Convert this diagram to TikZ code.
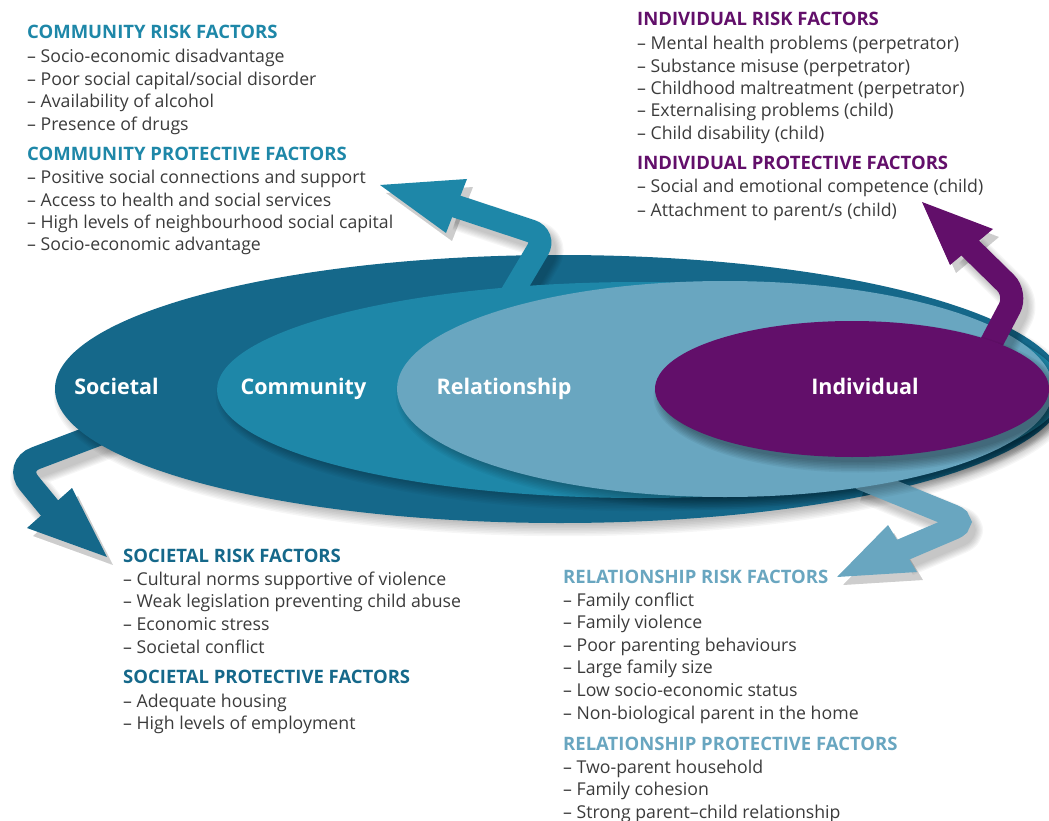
\documentclass[tikz,border=0pt]{standalone}
\usepackage{fontspec}
\setmainfont{Open Sans}
\definecolor{soc}{HTML}{15688A}
\definecolor{com}{HTML}{1E87A8}
\definecolor{rel}{HTML}{69A6C0}
\definecolor{ind}{HTML}{620F6A}
\definecolor{txt}{HTML}{3B3B3B}
\tikzset{
  body/.style={inner sep=0pt, anchor=base west, text=txt, font=\fontsize{17.7}{22}\selectfont},
  head/.style={inner sep=0pt, anchor=base west, font=\bfseries\fontsize{18.5}{22}\selectfont},
  lvl/.style={inner sep=0pt, anchor=base, text=white, font=\bfseries\fontsize{21.5}{26}\selectfont},
  shaft/.style={line width=23pt, rounded corners=16pt},
  shd/.style={black, opacity=0.035},
}
\newcommand{\ellshadow}[4]{%
  \foreach \k in {0,...,7}
    \fill[shd] (#1+5,#2+7) ellipse [x radius={#3pt-5pt+\k*1.6pt}, y radius={#4pt-5pt+\k*1.6pt}];%
}
\newcommand{\arrshadow}[1]{%
  \foreach \k in {0,...,6}
    \draw[shd, line width={21pt+\k*2.4pt}, rounded corners=16pt, line join=round] #1;%
}
\begin{document}
\begin{tikzpicture}[x=1pt,y=-1pt]
\useasboundingbox (0,0) rectangle (1049,821);
\clip (0,0) rectangle (1049,821);

% ---------- societal arrow (behind societal ellipse)
\begin{scope}[shift={(6,8)}]
  \arrshadow{(110,430) -- (15,466) -- (52,512)}
  \foreach \k in {0,...,5}
    \fill[shd] (107,557) -- (27,528) -- (72,488) -- cycle;
\end{scope}
\coordinate (sa0) at (110,430);
\coordinate (sa1) at (15,466);
\coordinate (sa2) at (52,511);
\draw[soc, shaft, rounded corners=22pt] (sa0) -- (sa1) -- (sa2);
\fill[soc] (107,557) coordinate (satip) -- (27,528) -- (72,488) -- cycle;

% ---------- societal ellipse
\ellshadow{560}{389}{505}{134}
\fill[soc] (560,389) ellipse [x radius=505pt, y radius=134pt];
\node[lvl] (societal) at (116.5,394) {Societal};

% ---------- community arrow
\begin{scope}[shift={(6,8)}]
  \arrshadow{(508,300) -- (546,236) -- (452,205)}
  \foreach \k in {0,...,5}
    \fill[shd] (380,185) -- (467,179) -- (446,233) -- cycle;
\end{scope}
\coordinate (ca0) at (508,300);
\coordinate (ca1) at (546,236);
\coordinate (ca2) at (452,205);
\draw[com, shaft] (ca0) -- (ca1) -- (ca2);
\fill[com] (380,185) coordinate (catip) -- (467,179) -- (446,233) -- cycle;

% ---------- community ellipse
\ellshadow{640}{390}{423}{108}
\fill[com] (640,390) ellipse [x radius=423pt, y radius=108pt];
\node[lvl] (community) at (303.5,394) {Community};

% ---------- relationship arrow
\begin{scope}[shift={(6,8)}]
  \arrshadow{(860,478) -- (968,522) -- (900,551)}
  \foreach \k in {0,...,5}
    \fill[shd] (837,577) -- (888,525) -- (917,572) -- cycle;
\end{scope}
\coordinate (ra0) at (860,478);
\coordinate (ra1) at (968,522);
\coordinate (ra2) at (900,551);
\draw[rel, shaft] (ra0) -- (ra1) -- (ra2);
\fill[rel] (837,577) coordinate (ratip) -- (888,525) -- (917,572) -- cycle;

% ---------- relationship ellipse
\ellshadow{725}{389}{328}{108}
\fill[rel] (725,389) ellipse [x radius=328pt, y radius=108pt];
\node[lvl] (relationship) at (504,394) {Relationship};

% ---------- individual arrow
\begin{scope}[shift={(6,8)}]
  \arrshadow{(985,355) -- (1017,294) -- (965,243)}
  \foreach \k in {0,...,5}
    \fill[shd] (922,202) -- (993,229) -- (950,265) -- cycle;
\end{scope}
\coordinate (ia0) at (985,355);
\coordinate (ia1) at (1017,294);
\coordinate (ia2) at (965,243);
\draw[ind, shaft] (ia0) -- (ia1) -- (ia2);
\fill[ind] (922,202) coordinate (iatip) -- (993,229) -- (950,265) -- cycle;

% ---------- individual ellipse
\foreach \k in {0,...,7}
  \fill[black, opacity=0.05] (858,397) ellipse [x radius={194pt+\k*1.5pt}, y radius={65pt+\k*1.5pt}];
\fill[ind] (852,389) ellipse [x radius=197pt, y radius=68pt];
\node[lvl] (individual) at (865,394) {Individual};

% ---------- community text
\node[head, text=com] (ch1) at (27,39) {COMMUNITY RISK FACTORS};
\foreach \t [count=\i from 0] in {Socio-economic disadvantage, Poor social capital/social disorder, Availability of alcohol, Presence of drugs}
  \node[body] (cr\i) at (27,62.7+22.5*\i) {– \t};
\node[head, text=com] (ch2) at (27,161) {COMMUNITY PROTECTIVE FACTORS};
\foreach \t [count=\i from 0] in {Positive social connections and support, Access to health and social services, High levels of neighbourhood social capital, Socio-economic advantage}
  \node[body] (cp\i) at (27,184+22.3*\i) {– \t};

% ---------- individual text
\node[head, text=ind] (ih1) at (637,26) {INDIVIDUAL RISK FACTORS};
\foreach \t [count=\i from 0] in {Mental health problems (perpetrator), Substance misuse (perpetrator), Childhood maltreatment (perpetrator), Externalising problems (child), Child disability (child)}
  \node[body] (ir\i) at (637,50+22.3*\i) {– \t};
\node[head, text=ind] (ih2) at (637,170) {INDIVIDUAL PROTECTIVE FACTORS};
\foreach \t [count=\i from 0] in {Social and emotional competence (child), Attachment to parent/s (child)}
  \node[body] (ip\i) at (637,193+23*\i) {– \t};

% ---------- societal text
\node[head, text=soc] (sh1) at (123,562) {SOCIETAL RISK FACTORS};
\foreach \t [count=\i from 0] in {Cultural norms supportive of violence, Weak legislation preventing child abuse, Economic stress, Societal conflict}
  \node[body] (sr\i) at (123,585+22.7*\i) {– \t};
\node[head, text=soc] (sh2) at (123,683) {SOCIETAL PROTECTIVE FACTORS};
\foreach \t [count=\i from 0] in {Adequate housing, High levels of employment}
  \node[body] (sp\i) at (123,707+22*\i) {– \t};

% ---------- relationship text
\node[head, text=rel] (rh1) at (563,583) {RELATIONSHIP RISK FACTORS};
\foreach \t [count=\i from 0] in {Family conflict, Family violence, Poor parenting behaviours, Large family size, Low socio-economic status, Non-biological parent in the home}
  \node[body] (rr\i) at (563,606+22.6*\i) {– \t};
\node[head, text=rel] (rh2) at (563,750) {RELATIONSHIP PROTECTIVE FACTORS};
\foreach \t [count=\i from 0] in {Two-parent household, Family cohesion, Strong parent–child relationship}
  \node[body] (rp\i) at (563,773+22.6*\i) {– \t};
\end{tikzpicture}
\end{document}
